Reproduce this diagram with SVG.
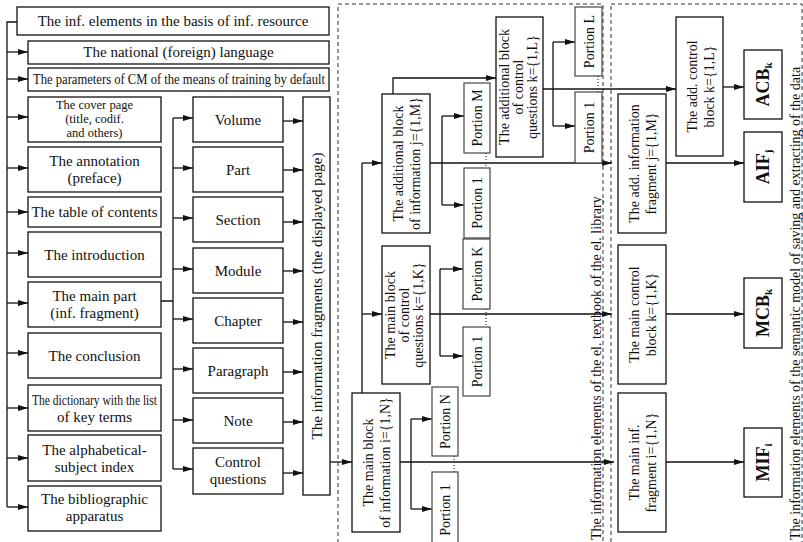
<svg xmlns="http://www.w3.org/2000/svg" width="803" height="542" viewBox="0 0 803 542">
<defs>
<marker id="ah" viewBox="0 0 10 6" refX="10" refY="3" markerWidth="10" markerHeight="6" markerUnits="userSpaceOnUse" orient="auto">
<path d="M0,0 L10,3 L0,6 z" fill="#111"/>
</marker>
<style>
.b{fill:#fff;stroke:#111;stroke-width:1.3}
.p{fill:#fff;stroke:#444;stroke-width:1.2}
.t{font-family:"Liberation Serif","Times New Roman",serif;font-size:15px;fill:#111;text-anchor:middle}
.r{font-size:14px}
.s{font-size:12.5px}
.bold{font-weight:bold;font-size:18px}
.sub{font-size:11px}
.lab{font-family:"Liberation Serif","Times New Roman",serif;font-size:14px;fill:#111}
.c{stroke:#111;stroke-width:1.3;fill:none}
.a{marker-end:url(#ah)}
.d{fill:none;stroke:#333;stroke-width:1;stroke-dasharray:4 3}
.dot{stroke:#333;stroke-width:1.2;stroke-dasharray:1 2;fill:none}
</style>
</defs>
<rect width="803" height="542" fill="#fff"/>

<g id="frames">
<rect class="d" x="338" y="4" width="265" height="540"/>
<rect class="d" x="611" y="4" width="191" height="540"/>
<text class="lab" transform="translate(601,540) rotate(-90)">The information elements of the el. textbook of the el. library</text>
<text class="lab" transform="translate(800,540) rotate(-90)">The information elements of the semantic model of saving and extracting of the data</text>
</g>

<g id="connectors">
<path class="c" d="M17,22 H7 V507"/>
<path class="c a" d="M7,52 H28"/>
<path class="c a" d="M7,79 H28"/>
<path class="c a" d="M7,117 H28"/>
<path class="c a" d="M7,168 H28"/>
<path class="c a" d="M7,212 H28"/>
<path class="c a" d="M7,253 H28"/>
<path class="c a" d="M7,303 H28"/>
<path class="c a" d="M7,353 H28"/>
<path class="c a" d="M7,408 H28"/>
<path class="c a" d="M7,458 H28"/>
<path class="c a" d="M7,507 H28"/>

<path class="c" d="M161,301 H173 M173,118 V469"/>
<path class="c a" d="M173,118 H193"/>
<path class="c a" d="M173,168 H193"/>
<path class="c a" d="M173,218 H193"/>
<path class="c a" d="M173,269 H193"/>
<path class="c a" d="M173,319 H193"/>
<path class="c a" d="M173,369 H193"/>
<path class="c a" d="M173,420 H193"/>
<path class="c a" d="M173,469 H193"/>

<path class="c a" d="M283,121 H303"/>
<path class="c a" d="M283,170 H303"/>
<path class="c a" d="M283,222 H303"/>
<path class="c a" d="M283,271 H303"/>
<path class="c a" d="M283,322 H303"/>
<path class="c a" d="M283,372 H303"/>
<path class="c a" d="M283,422 H303"/>
<path class="c a" d="M283,473 H303"/>

<path class="c a" d="M330,462 H352"/>
<path class="c" d="M362,393 V163"/>
<path class="c a" d="M362,314 H382"/>
<path class="c a" d="M362,163 H382"/>
<path class="c a" d="M393,94 V78 H496"/>

<path class="c a" d="M430,163 H612"/>
<path class="c" d="M442,116 V205"/>
<path class="c a" d="M442,116 H464"/>
<path class="c a" d="M442,205 H464"/>

<path class="c a" d="M543,89 H676"/>
<path class="c" d="M553,42 V126"/>
<path class="c a" d="M553,42 H575"/>
<path class="c a" d="M553,126 H575"/>

<path class="c a" d="M430,314 H612"/>
<path class="c" d="M440,269 V356"/>
<path class="c a" d="M440,269 H463"/>
<path class="c a" d="M440,356 H463"/>

<path class="c a" d="M400,462 H614"/>
<path class="c" d="M411,419 V509"/>
<path class="c a" d="M411,419 H432"/>
<path class="c a" d="M411,509 H432"/>

<path class="c a" d="M723,87 H744"/>
<path class="c a" d="M666,163 H744"/>
<path class="c a" d="M666,314 H744"/>
<path class="c a" d="M666,462 H744"/>

<path class="dot" d="M486,153 V168 M598,76 V92 M486,309 V327 M454,456 V472"/>
</g>

<g id="n-basis"><rect class="b" x="17" y="7" width="312" height="28"/><text class="t" x="173" y="26">The inf. elements in the basis of inf. resource</text></g>
<g id="n-language"><rect class="b" x="28" y="41" width="301" height="23"/><text class="t" x="178.5" y="57">The national (foreign) language</text></g>
<g id="n-params"><rect class="b" x="28" y="68" width="301" height="23"/><text class="t" x="179" y="84" textLength="292" lengthAdjust="spacingAndGlyphs">The parameters of CM of the means of training by default</text></g>
<g id="n-cover"><rect class="b" x="28" y="97" width="133" height="45"/><text class="t s" x="94.5" y="109">The cover page</text><text class="t s" x="94.5" y="123">(title, codif.</text><text class="t s" x="94.5" y="137">and others)</text></g>
<g id="n-annotation"><rect class="b" x="28" y="147" width="133" height="45"/><text class="t" x="94.5" y="166">The annotation<tspan x="94.5" y="183">(preface)</tspan></text></g>
<g id="n-toc"><rect class="b" x="28" y="197" width="133" height="30"/><text class="t" x="94.5" y="217">The table of contents</text></g>
<g id="n-intro"><rect class="b" x="28" y="232" width="133" height="45"/><text class="t" x="94.5" y="260">The introduction</text></g>
<g id="n-mainpart"><rect class="b" x="28" y="282" width="133" height="45"/><text class="t" x="94.5" y="301">The main part<tspan x="94.5" y="318">(inf. fragment)</tspan></text></g>
<g id="n-conclusion"><rect class="b" x="28" y="333" width="133" height="45"/><text class="t" x="94.5" y="361">The conclusion</text></g>
<g id="n-dictionary"><rect class="b" x="28" y="385" width="133" height="46"/><text class="t" x="94.5" y="405" textLength="125" lengthAdjust="spacingAndGlyphs">The dictionary with the list</text><text class="t" x="94.5" y="422">of key terms</text></g>
<g id="n-index"><rect class="b" x="28" y="435" width="133" height="46"/><text class="t" x="94.5" y="455">The alphabetical-<tspan x="94.5" y="472">subject index</tspan></text></g>
<g id="n-biblio"><rect class="b" x="28" y="486" width="133" height="45"/><text class="t" x="94.5" y="504">The bibliographic<tspan x="94.5" y="521">apparatus</tspan></text></g>

<g id="n-volume"><rect class="b" x="193" y="97" width="90" height="45"/><text class="t" x="238" y="125">Volume</text></g>
<g id="n-part"><rect class="b" x="193" y="147" width="90" height="45"/><text class="t" x="238" y="175">Part</text></g>
<g id="n-section"><rect class="b" x="193" y="197" width="90" height="45"/><text class="t" x="238" y="225">Section</text></g>
<g id="n-module"><rect class="b" x="193" y="248" width="90" height="45"/><text class="t" x="238" y="276">Module</text></g>
<g id="n-chapter"><rect class="b" x="193" y="298" width="90" height="45"/><text class="t" x="238" y="326">Chapter</text></g>
<g id="n-paragraph"><rect class="b" x="193" y="348" width="90" height="45"/><text class="t" x="238" y="376">Paragraph</text></g>
<g id="n-note"><rect class="b" x="193" y="398" width="90" height="45"/><text class="t" x="238" y="426">Note</text></g>
<g id="n-control"><rect class="b" x="193" y="448" width="90" height="46"/><text class="t" x="238" y="467">Control<tspan x="238" y="484">questions</tspan></text></g>

<g id="n-fragments"><rect class="b" x="303" y="97" width="27" height="398"/><text class="t" transform="translate(316.5,296) rotate(-90)" y="5">The information fragments (the displayed page)</text></g>

<g id="n-mainblock"><rect class="b" x="352" y="393" width="48" height="139"/><text class="t r" transform="translate(376,462.5) rotate(-90)"><tspan x="0" y="-3">The main block</tspan><tspan x="0" y="14">of information i={1,N}</tspan></text></g>
<g id="n-maincq"><rect class="b" x="382" y="246" width="48" height="138"/><text class="t r" transform="translate(406,315) rotate(-90)"><tspan x="0" y="-11">The main block</tspan><tspan x="0" y="3">of control</tspan><tspan x="0" y="17">questions k={1,K}</tspan></text></g>
<g id="n-addblock"><rect class="b" x="382" y="94" width="48" height="139"/><text class="t r" transform="translate(406,163.5) rotate(-90)"><tspan x="0" y="-3">The additional block</tspan><tspan x="0" y="14">of information j={1,M}</tspan></text></g>
<g id="n-addcq"><rect class="b" x="496" y="17" width="47" height="140"/><text class="t r" transform="translate(519.5,87) rotate(-90)"><tspan x="0" y="-11">The additional block</tspan><tspan x="0" y="3">of control</tspan><tspan x="0" y="17">questions k={1,L}</tspan></text></g>

<g id="n-portionM"><rect class="p" x="464" y="83" width="26" height="70"/><text class="t r" transform="translate(477,118) rotate(-90)" y="5">Portion M</text></g>
<g id="n-portion1j"><rect class="p" x="464" y="168" width="26" height="70"/><text class="t r" transform="translate(477,203) rotate(-90)" y="5">Portion 1</text></g>
<g id="n-portionL"><rect class="p" x="575" y="7" width="27" height="69"/><text class="t r" transform="translate(588.5,41.5) rotate(-90)" y="5">Portion L</text></g>
<g id="n-portion1l"><rect class="p" x="575" y="92" width="27" height="71"/><text class="t r" transform="translate(588.5,127.5) rotate(-90)" y="5">Portion 1</text></g>
<g id="n-portionK"><rect class="p" x="463" y="239" width="27" height="70"/><text class="t r" transform="translate(476.5,274) rotate(-90)" y="5">Portion K</text></g>
<g id="n-portion1k"><rect class="p" x="463" y="327" width="27" height="69"/><text class="t r" transform="translate(476.5,361.5) rotate(-90)" y="5">Portion 1</text></g>
<g id="n-portionN"><rect class="p" x="432" y="387" width="26" height="69"/><text class="t r" transform="translate(445,421.5) rotate(-90)" y="5">Portion N</text></g>
<g id="n-portion1i"><rect class="p" x="432" y="472" width="26" height="76"/><text class="t r" transform="translate(445,510) rotate(-90)" y="5">Portion 1</text></g>

<g id="n-addctrl"><rect class="b" x="676" y="17" width="47" height="139"/><text class="t r" transform="translate(699.5,86.5) rotate(-90)"><tspan x="0" y="-3">The add. control</tspan><tspan x="0" y="14">block k={1,L}</tspan></text></g>
<g id="n-addinfo"><rect class="b" x="618" y="94" width="48" height="139"/><text class="t r" transform="translate(642,163.5) rotate(-90)"><tspan x="0" y="-3">The add. information</tspan><tspan x="0" y="14">fragment j={1,M}</tspan></text></g>
<g id="n-mainctrl"><rect class="b" x="618" y="245" width="48" height="139"/><text class="t r" transform="translate(642,314.5) rotate(-90)"><tspan x="0" y="-3">The main control</tspan><tspan x="0" y="14">block k={1,K}</tspan></text></g>
<g id="n-maininf"><rect class="b" x="618" y="393" width="48" height="139"/><text class="t r" transform="translate(642,462.5) rotate(-90)"><tspan x="0" y="-3">The main inf.</tspan><tspan x="0" y="14">fragment i={1,N}</tspan></text></g>

<g id="n-acb"><rect class="b" x="744" y="50" width="38" height="69"/><text class="t bold" transform="translate(763,84.5) rotate(-90)" y="6">ACB<tspan class="sub" dy="3">k</tspan></text></g>
<g id="n-aif"><rect class="b" x="744" y="132" width="38" height="70"/><text class="t bold" transform="translate(763,167) rotate(-90)" y="6">AIF<tspan class="sub" dy="3">j</tspan></text></g>
<g id="n-mcb"><rect class="b" x="744" y="278" width="38" height="70"/><text class="t bold" transform="translate(763,313) rotate(-90)" y="6">MCB<tspan class="sub" dy="3">k</tspan></text></g>
<g id="n-mif"><rect class="b" x="744" y="428" width="38" height="69"/><text class="t bold" transform="translate(763,462.5) rotate(-90)" y="6">MIF<tspan class="sub" dy="3">i</tspan></text></g>
</svg>
